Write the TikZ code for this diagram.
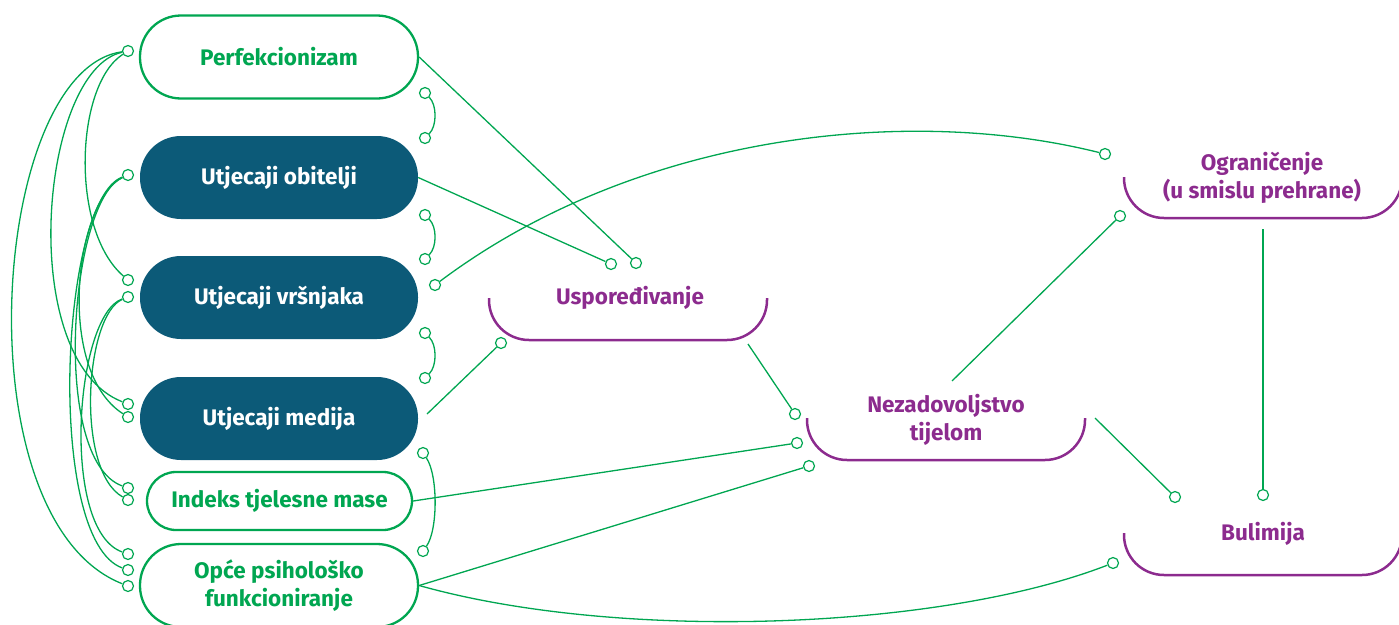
\documentclass[tikz,border=0pt]{standalone}
\usepackage{fontspec}
\setmainfont{Fira Sans}
\definecolor{mygreen}{HTML}{00A651}
\definecolor{myteal}{HTML}{0C5A78}
\definecolor{mypurple}{HTML}{8C2B8E}
\begin{document}
\begin{tikzpicture}[x=1pt,y=-1pt,
  font=\bfseries\fontsize{22.5}{27.5}\selectfont,
  gbox/.style={draw=mygreen, line width=2.3pt, fill=white, rounded corners=41pt, minimum width=278pt, minimum height=83pt, text=mygreen, align=center, inner sep=0pt},
  tbox/.style={fill=myteal, rounded corners=41pt, minimum width=278pt, minimum height=83pt, text=white, inner sep=0pt},
  plabel/.style={text=mypurple, align=center, inner sep=0pt},
  bracket/.style={draw=mypurple, line width=2.5pt, rounded corners=40pt},
  conn/.style={draw=mygreen, line width=1.3pt},
  dot/.style={circle, draw=mygreen, line width=1.2pt, fill=white, inner sep=0pt, minimum size=11pt}
]
\useasboundingbox (0,0) rectangle (1399,624);

% boxes
\node[gbox] (perf) at (279,57) {Perfekcionizam};
\node[tbox] (obit) at (279,177.5) {Utjecaji obitelji};
\node[tbox] (vrs) at (279,297.5) {Utjecaji vršnjaka};
\node[tbox] (med) at (279,418.5) {Utjecaji medija};
\node[gbox, minimum width=265pt, minimum height=58pt, rounded corners=29pt] (bmi) at (279.5,501) {Indeks tjelesne mase};
\node[gbox] (opce) at (279,585.5) {Opće psihološko\\funkcioniranje};

% purple labels
\node[plabel] (usp) at (630,298) {Uspoređivanje};
\node[plabel] (nez) at (946,420) {Nezadovoljstvo\\tijelom};
\node[plabel] (ogr) at (1262,178) {Ograničenje\\(u smislu prehrane)};
\node[plabel] (bul) at (1263,534) {Bulimija};

% brackets
\draw[bracket] (489,298) -- (489,340) -- (767,340) -- (767,298);
\draw[bracket] (807,418) -- (807,460) -- (1085,460) -- (1085,418);
\draw[bracket] (1124,177) -- (1124,218) -- (1402,218) -- (1402,177);
\draw[bracket] (1124,533) -- (1124,575) -- (1402,575) -- (1402,533);

% free coordinates
\coordinate (cmed) at (427,414);
\coordinate (cusp) at (748,344);
\coordinate (cnez) at (952,381);
\coordinate (cnez2) at (1095,418);
\coordinate (cogr) at (1263,229);

% dots
\node[dot] (dpu) at (636,263) {};
\node[dot] (dou) at (611,264) {};
\node[dot] (dvo) at (435,285) {};
\node[dot] (dvog) at (1105,154) {};
\node[dot] (dmu) at (501,343) {};
\node[dot] (dun) at (795,414) {};
\node[dot] (dbn) at (797,443) {};
\node[dot] (don) at (809,466) {};
\node[dot] (dob) at (1113,563) {};
\node[dot] (dno) at (1120,216) {};
\node[dot] (dogb) at (1263,495) {};
\node[dot] (dnb) at (1175,497) {};

\node[dot] (r1a) at (425,93) {};
\node[dot] (r1b) at (425,138) {};
\node[dot] (r2a) at (425,215) {};
\node[dot] (r2b) at (425,259) {};
\node[dot] (r3a) at (425,333) {};
\node[dot] (r3b) at (425,378) {};
\node[dot] (r4a) at (423,453) {};
\node[dot] (r4b) at (423,551) {};

\node[dot] (lp) at (128,51) {};
\node[dot] (lo) at (128,175) {};
\node[dot] (lvin) at (128,280) {};
\node[dot] (lv) at (128,297) {};
\node[dot] (lm1) at (128,404) {};
\node[dot] (lm2) at (128,417) {};
\node[dot] (lb1) at (128,488) {};
\node[dot] (lb2) at (128,500) {};
\node[dot] (lc1) at (128,554) {};
\node[dot] (lc2) at (128,570) {};
\node[dot] (lc3) at (128,586) {};

% connectors
\draw[conn] (perf.east) -- (dpu);
\draw[conn] (obit.east) -- (dou);
\draw[conn] (dvo) .. controls (635,135) and (905,104) .. (dvog);
\draw[conn] (cmed) -- (dmu);
\draw[conn] (cusp) -- (dun);
\draw[conn] (bmi.east) -- (dbn);
\draw[conn] (opce.east) -- (don);
\draw[conn] (opce.east) .. controls (620,642) and (940,630) .. (dob);
\draw[conn] (cnez) -- (dno);
\draw[conn] (cogr) -- (dogb);
\draw[conn] (cnez2) -- (dnb);

% right arcs
\draw[conn] (r1a) .. controls (437,105) and (437,126) .. (r1b);
\draw[conn] (r2a) .. controls (437,227) and (437,247) .. (r2b);
\draw[conn] (r3a) .. controls (437,345) and (437,366) .. (r3b);
\draw[conn] (r4a) .. controls (438,475) and (438,530) .. (r4b);

% left curves
\draw[conn] (lp) .. controls (75,85) and (70,230) .. (lvin);
\draw[conn] (lp) .. controls (40,70) and (15,360) .. (lm1);
\draw[conn] (lp) .. controls (-10,70) and (-40,520) .. (lc3);
\draw[conn] (lo) .. controls (75,200) and (55,370) .. (lm2);
\draw[conn] (lo) .. controls (70,200) and (50,460) .. (lb1);
\draw[conn] (lo) .. controls (60,200) and (45,540) .. (lc2);
\draw[conn] (lv) .. controls (85,315) and (75,470) .. (lb2);
\draw[conn] (lv) .. controls (75,315) and (60,530) .. (lc1);
\end{tikzpicture}
\end{document}
